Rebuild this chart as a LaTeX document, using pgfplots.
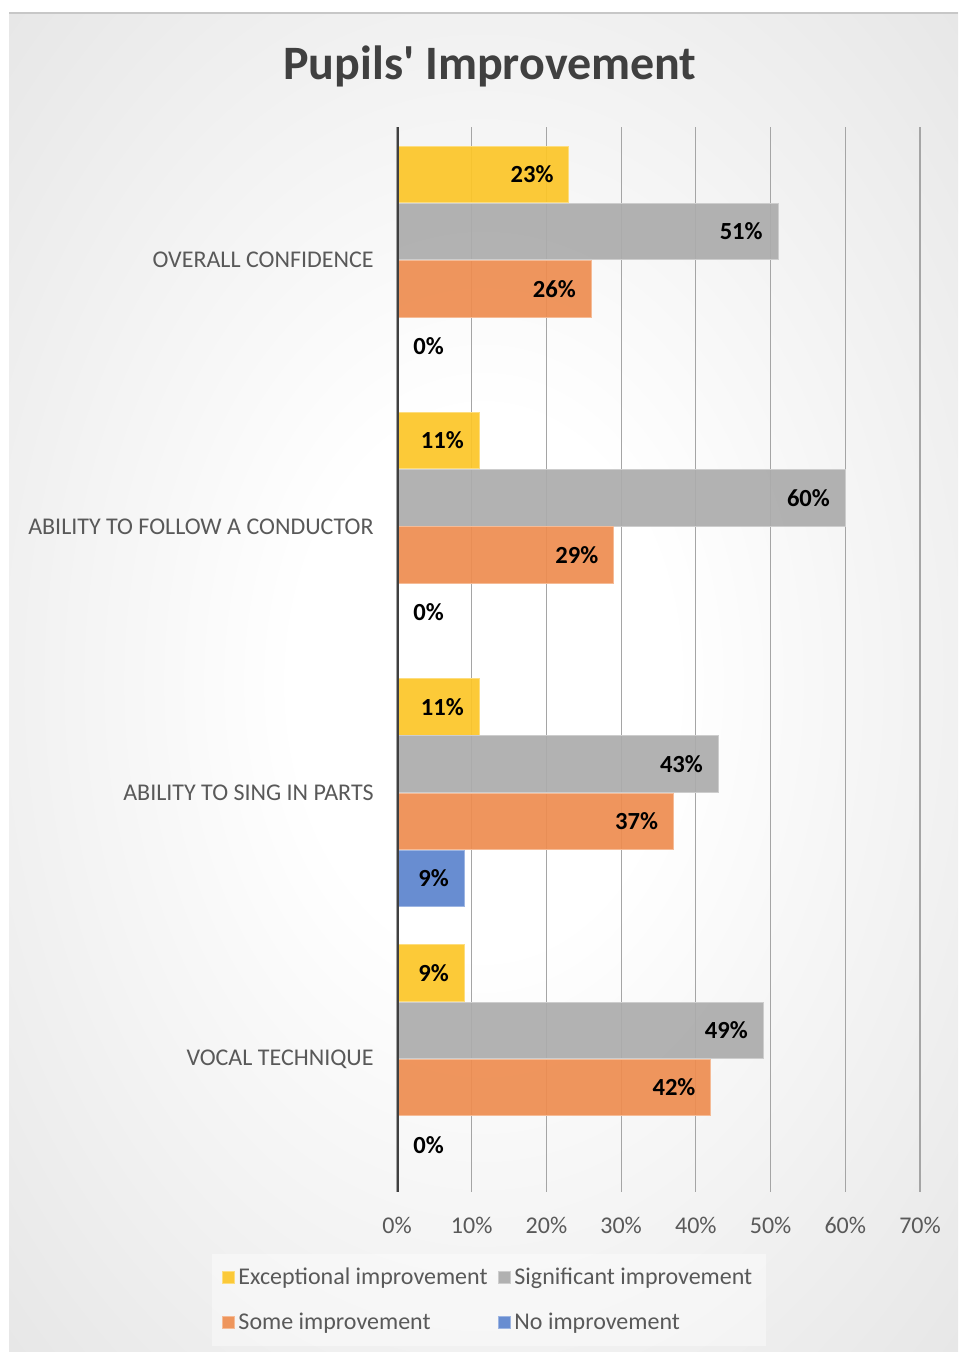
\documentclass[border=0pt]{standalone}
\usepackage{pgfplots}
\pgfplotsset{compat=1.18}
\usepackage{fontspec}
\setmainfont{Carlito}
\definecolor{yel}{RGB}{252,198,40}
\definecolor{gry}{RGB}{172,172,172}
\definecolor{org}{RGB}{238,141,80}
\definecolor{blu}{RGB}{92,132,206}
\definecolor{txt}{RGB}{89,89,89}
\definecolor{ttl}{RGB}{64,64,64}
\definecolor{bgout}{RGB}{198,198,198}
\definecolor{gridc}{RGB}{165,165,165}
\pgfdeclareradialshading{bgshade}{\pgfpoint{0bp}{0bp}}{color(0bp)=(white); color(10bp)=(white); color(70bp)=(bgout); color(100bp)=(bgout)}
\begin{document}
\begin{tikzpicture}
\useasboundingbox (0,0) rectangle (479pt,676pt);
\shade[shading=bgshade] (4.5pt,0pt) rectangle (479pt,669.5pt);
\draw[black!22, line width=0.6pt] (4.5pt,669.5pt) -- (479pt,669.5pt);
\node[font=\bfseries\fontsize{24}{28}\selectfont, color=ttl] at (245pt,643pt) {Pupils\textquotesingle{} Improvement};
\begin{axis}[
  at={(198.5pt,80pt)}, anchor=south west,
  scale only axis, width=261.5pt, height=532.5pt,
  xbar, bar width=0.212,
  xmin=0, xmax=70, ymin=-0.5, ymax=3.5,
  xtick={0,10,...,70}, ytick={0,1,2,3},
  yticklabels={VOCAL TECHNIQUE, ABILITY TO SING IN PARTS, ABILITY TO FOLLOW A CONDUCTOR, OVERALL CONFIDENCE},
  xticklabel={\pgfmathprintnumber{\tick}\%},
  /pgf/number format/assume math mode=true,
  major tick length=0pt,
  axis line style={draw=none},
  xmajorgrids, grid style={color=gridc, line width=0.6pt},
  xticklabel style={font=\fontsize{12}{14}\selectfont, color=txt, anchor=center, yshift=-16.5pt},
  yticklabel style={font=\fontsize{12}{14}\selectfont, color=txt, anchor=east, inner sep=0pt, xshift=-11.5pt},
  point meta=x,
  nodes near coords={\pgfmathprintnumber{\pgfplotspointmeta}\%},
  every node near coord/.append style={font=\bfseries\fontsize{12.3}{14}\selectfont, color=black, anchor=east, inner sep=0pt, xshift=-7.5pt, text opacity=1},
  legend columns=2,
  legend cell align=left,
  legend image code/.code={\draw[#1, line width=0.4pt] (0pt,-3pt) rectangle (6pt,3pt);},
  legend style={at={(0.1759,-0.1014)}, anchor=center, draw=none, fill=white, fill opacity=0.4, text opacity=1,
    font=\fontsize{12}{14}\selectfont, text=txt, inner sep=5pt, row sep=8.5pt,
    /tikz/every even column/.append style={column sep=3pt}},
]
\addplot[fill=yel, draw=yel!60!white, fill opacity=0.92, bar shift=0.3225] coordinates {(9,0) (11,1) (11,2) (23,3)};
\addlegendentry{Exceptional improvement}
\addplot[fill=gry, draw=gry!60!white, fill opacity=0.92, bar shift=0.1075] coordinates {(49,0) (43,1) (60,2) (51,3)};
\addlegendentry{Significant improvement}
\addplot[fill=org, draw=org!60!white, fill opacity=0.92, bar shift=-0.1075] coordinates {(42,0) (37,1) (29,2) (26,3)};
\addlegendentry{Some improvement}
\addplot[fill=blu, draw=blu!60!white, fill opacity=0.92, bar shift=-0.3225] coordinates {(9,1)};
\addlegendentry{No improvement}
\addplot[draw=none, fill=none, bar shift=-0.3225, forget plot,
  every node near coord/.append style={anchor=west, xshift=15.5pt}] coordinates {(0,0) (0,2) (0,3)};
\draw[color=ttl, line width=1.9pt] (axis cs:0,-0.5) -- (axis cs:0,3.5);
\end{axis}
\end{tikzpicture}
\end{document}
